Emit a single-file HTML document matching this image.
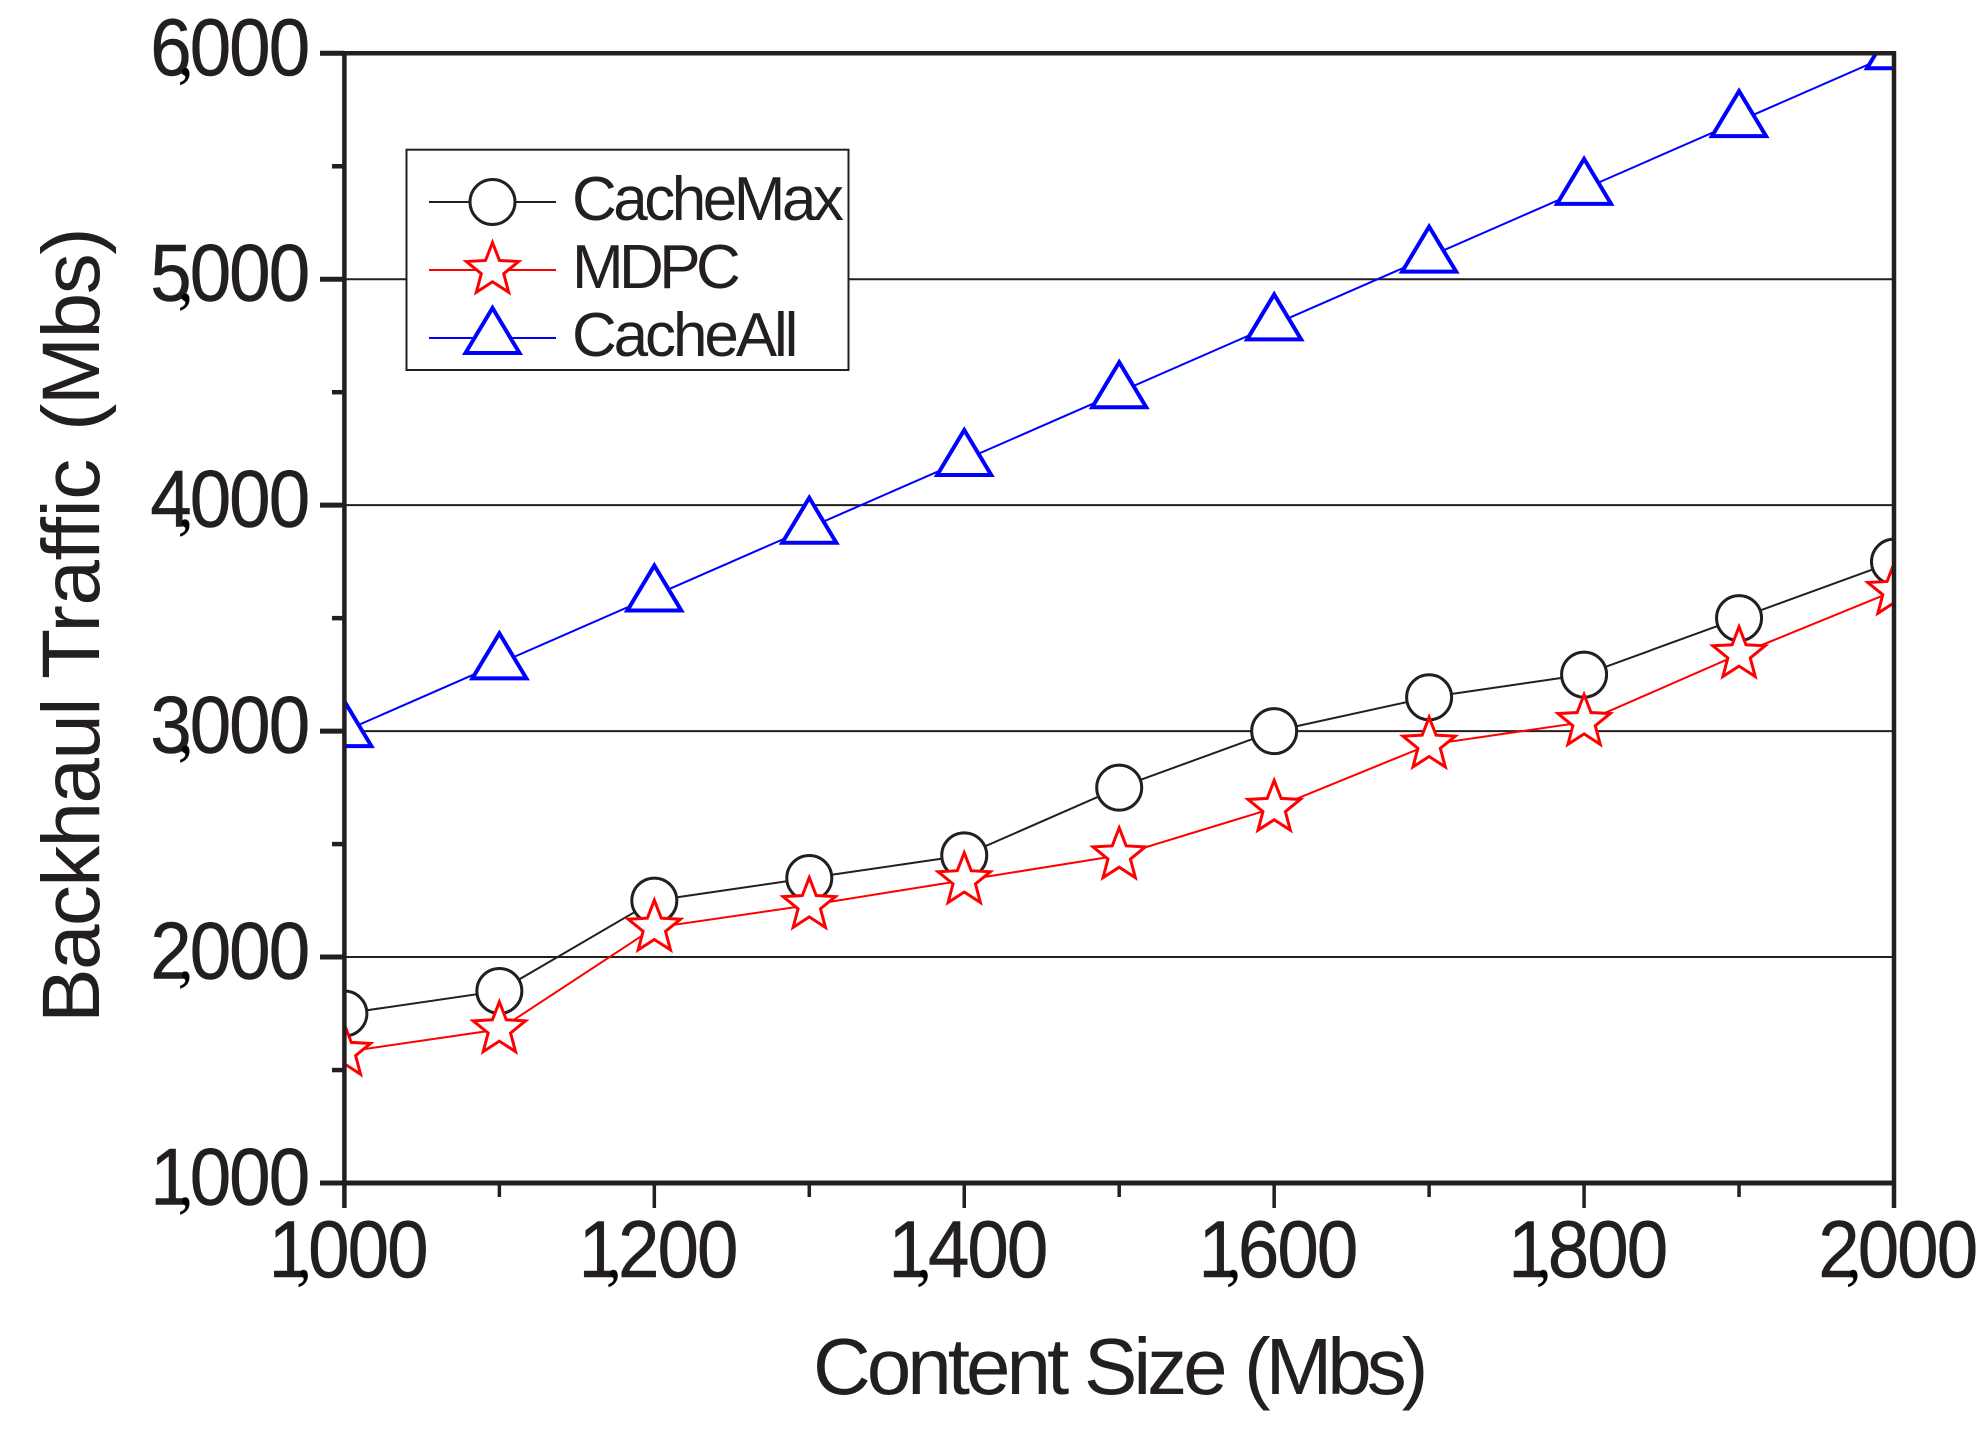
<!DOCTYPE html>
<html lang="en">
<head>
<meta charset="utf-8">
<title>Backhaul Traffic vs Content Size</title>
<style>
  html, body { margin: 0; padding: 0; background: #fff; }
  svg { display: block; }
  text { font-family: "Liberation Sans", sans-serif; fill: #231f20; font-variant-ligatures: none; }
</style>
</head>
<body>
<svg id="chart" xmlns="http://www.w3.org/2000/svg" width="1984" height="1439" viewBox="0 0 1984 1439">
  <rect x="0" y="0" width="1984" height="1439" fill="#fff"/>
  <defs>
    <clipPath id="plot-clip"><rect x="344" y="53" width="1550" height="1130"/></clipPath>
  </defs>
  <g id="grid"></g>
  <g id="series" clip-path="url(#plot-clip)"></g>
  <g id="axes"></g>
  <g id="legend"></g>
  <text y="1394" font-size="80"><tspan x="813" letter-spacing="-4">Content </tspan><tspan x="1084" letter-spacing="-4">Size </tspan><tspan x="1244" letter-spacing="-5">(Mbs)</tspan></text>
  <text transform="translate(99,1023) rotate(-90)" y="0" font-size="82"><tspan x="0" letter-spacing="-1.7">Backhaul </tspan><tspan x="344" letter-spacing="-0.5">Traffic </tspan><tspan x="592" letter-spacing="-1.5">(Mbs)</tspan></text>
</svg>
<script>
var categories = [1000, 1100, 1200, 1300, 1400, 1500, 1600, 1700, 1800, 1900, 2000];
var cacheMaxValues = [1750, 1850, 2250, 2350, 2450, 2750, 3000, 3150, 3250, 3500, 3750];
var mdpcValues = [1580, 1680, 2130, 2230, 2340, 2450, 2660, 2940, 3040, 3340, 3620];
var cacheAllValues = [3000, 3300, 3600, 3900, 4200, 4500, 4800, 5100, 5400, 5700, 6000];
var xTickValues = [1000, 1200, 1400, 1600, 1800, 2000];
var xTickLabels = ['1,000', '1,200', '1,400', '1,600', '1,800', '2,000'];
var xMinorTickValues = [1100, 1300, 1500, 1700, 1900];
var yTickValues = [1000, 2000, 3000, 4000, 5000, 6000];
var yTickLabels = ['1,000', '2,000', '3,000', '4,000', '5,000', '6,000'];
var yMinorTickValues = [1500, 2500, 3500, 4500, 5500];
var gridValues = [2000, 3000, 4000, 5000];

var NS = 'http://www.w3.org/2000/svg';
var INK = '#231f20';
var PLOT = { left: 344.4, right: 1894, top: 53.3, bottom: 1183 };
var DIGIT_SQUEEZE = 0.92;

function xScale(v) { return PLOT.left + (v - 1000) / 1000 * (PLOT.right - PLOT.left); }
function yScale(v) { return PLOT.bottom - (v - 1000) / 5000 * (PLOT.bottom - PLOT.top); }

function make(tag, attrs, parent) {
  var el = document.createElementNS(NS, tag);
  for (var k in attrs) { el.setAttribute(k, attrs[k]); }
  parent.appendChild(el);
  return el;
}

function starPoints(cx, cy) {
  var pts = [];
  for (var i = 0; i < 10; i++) {
    var r = i % 2 === 0 ? 27.5 : 11.8;
    var a = -Math.PI / 2 + i * Math.PI / 5;
    pts.push((cx + r * Math.cos(a)).toFixed(2) + ',' + (cy + r * Math.sin(a)).toFixed(2));
  }
  return pts.join(' ');
}

function trianglePoints(cx, cy) {
  return cx + ',' + (cy - 30) + ' ' + (cx + 27) + ',' + (cy + 15) + ' ' + (cx - 27) + ',' + (cy + 15);
}

function drawMarker(kind, cx, cy, color, parent) {
  var m;
  if (kind === 'circle') {
    m = make('circle', { cx: cx, cy: cy, r: 22.5, fill: '#fff', stroke: color, 'stroke-width': 3 }, parent);
  } else if (kind === 'star') {
    m = make('polygon', { points: starPoints(cx, cy), fill: '#fff', stroke: color, 'stroke-width': 3, 'stroke-miterlimit': 10 }, parent);
  } else {
    m = make('polygon', { points: trianglePoints(cx, cy), fill: '#fff', stroke: color, 'stroke-width': 4, 'stroke-linejoin': 'miter' }, parent);
  }
  return m;
}

function drawTickLabel(label, rightInk, baseline, name, parent) {
  var parts = label.split(',');
  var digits = parts[0] + parts[1];
  var advance = 39.5;
  var lastOrigin = rightInk - 38.3;
  var t = make('text', { 'font-size': 81, transform: 'translate(0,' + baseline + ') scale(' + DIGIT_SQUEEZE + ',1)', stroke: INK, 'stroke-width': 0.5 }, parent);
  
  
  for (var i = 0, c = 0; i < label.length; i++) {
    var ch = label.charAt(i);
    var s = document.createElementNS(NS, 'tspan');
    if (ch === ',') {
      s.setAttribute('x', (rightInk - 129) / DIGIT_SQUEEZE);
      s.setAttribute('font-size', '66');
      s.setAttribute('style', 'font-family:"Liberation Serif",serif;fill:#000');
    } else {
      s.setAttribute('x', (lastOrigin - (digits.length - 1 - c) * advance) / DIGIT_SQUEEZE);
      c++;
    }
    s.textContent = ch;
    t.appendChild(s);
  }
  return t;
}

/* gridlines */
var gridLayer = document.getElementById('grid');
gridValues.forEach(function (v) {
  var g = make('line', { x1: PLOT.left, x2: PLOT.right, y1: yScale(v), y2: yScale(v), stroke: INK, 'stroke-width': 2 }, gridLayer);
  
  
});

/* series */
var seriesLayer = document.getElementById('series');
function drawSeries(name, values, color, kind) {
  var group = make('g', {}, seriesLayer);
  
  
  var pts = values.map(function (v, i) { return xScale(categories[i]) + ',' + yScale(v); }).join(' ');
  var line = make('polyline', { points: pts, fill: 'none', stroke: color, 'stroke-width': 2 }, group);
  
  
  values.forEach(function (v, i) {
    var m = drawMarker(kind, xScale(categories[i]), yScale(v), color, group);
    
    
  });
}
drawSeries('cachemax', cacheMaxValues, INK, 'circle');
drawSeries('mdpc', mdpcValues, '#ff0000', 'star');
drawSeries('cacheall', cacheAllValues, '#0000ff', 'triangle');

/* axes */
var axesLayer = document.getElementById('axes');
var frameSides = [
  ['axis-top', 320, PLOT.top, PLOT.right + 2, PLOT.top, 4.5],
  ['axis-bottom', 320, PLOT.bottom, PLOT.right + 2, PLOT.bottom, 5],
  ['axis-left', PLOT.left, PLOT.top, PLOT.left, 1208, 4.5],
  ['axis-right', PLOT.right, PLOT.top - 2, PLOT.right, 1208, 4.5]
];
frameSides.forEach(function (f) {
  var l = make('line', { x1: f[1], y1: f[2], x2: f[3], y2: f[4], stroke: INK, 'stroke-width': f[5] }, axesLayer);
  
  
});
yTickValues.forEach(function (v, i) {
  var t = make('line', { x1: 320, x2: PLOT.left, y1: yScale(v), y2: yScale(v), stroke: INK, 'stroke-width': 5 }, axesLayer);
  
  
  drawTickLabel(yTickLabels[i], 307, yScale(v) + 21.5, 'y-tick-label-' + v, axesLayer);
});
yMinorTickValues.forEach(function (v) {
  var t = make('line', { x1: 332, x2: PLOT.left, y1: yScale(v), y2: yScale(v), stroke: INK, 'stroke-width': 4.5 }, axesLayer);
  
  
});
xTickValues.forEach(function (v, i) {
  var t = make('line', { x1: xScale(v), x2: xScale(v), y1: PLOT.bottom, y2: 1208, stroke: INK, 'stroke-width': 3.5 }, axesLayer);
  
  
  drawTickLabel(xTickLabels[i], xScale(v) + 81, 1277, 'x-tick-label-' + v, axesLayer);
});
xMinorTickValues.forEach(function (v) {
  var t = make('line', { x1: xScale(v), x2: xScale(v), y1: PLOT.bottom, y2: 1197, stroke: INK, 'stroke-width': 3.5 }, axesLayer);
  
  
});

/* legend */
var legendLayer = document.getElementById('legend');
var legendBox = make('rect', { x: 406.5, y: 149.7, width: 442, height: 220.3, fill: '#fff', stroke: INK, 'stroke-width': 2 }, legendLayer);


var legendNames = ['CacheMax', 'MDPC', 'CacheAll'];
var legendColors = [INK, '#ff0000', '#0000ff'];
var legendKinds = ['circle', 'star', 'triangle'];
var legendTracking = [-3.5, -4.6, -3.1];
legendNames.forEach(function (n, i) {
  var cy = 202 + i * 68;
  var entry = make('g', {}, legendLayer);
  
  
  make('line', { x1: 429, x2: 556, y1: cy, y2: cy, stroke: legendColors[i], 'stroke-width': 2 }, entry);
  drawMarker(legendKinds[i], 492.5, cy, legendColors[i], entry);
  var t = make('text', { x: 572, y: cy + 18, 'font-size': 62, 'letter-spacing': legendTracking[i] }, entry);
  
  
  t.textContent = n;
});
</script>
</body>
</html>
